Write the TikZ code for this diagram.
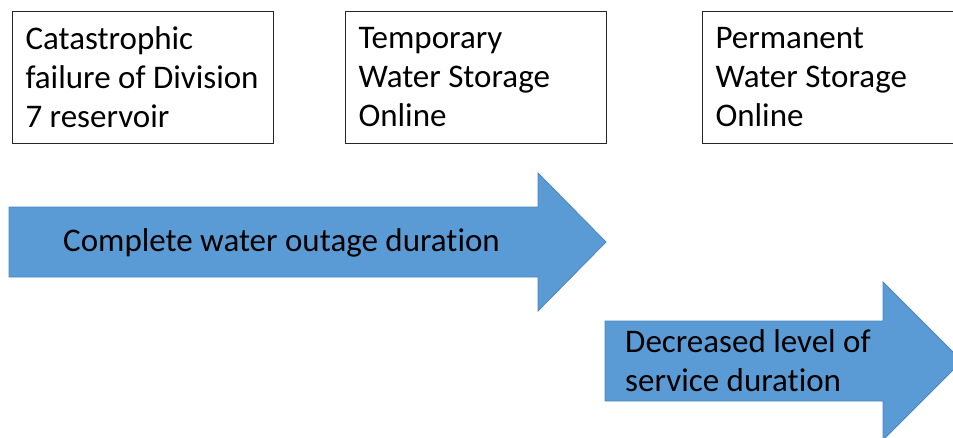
\documentclass[tikz,border=0pt]{standalone}
\usepackage{fontspec}
\setmainfont{Carlito}[Ligatures=NoCommon]
\usepackage{xcolor}
\definecolor{arrowblue}{HTML}{5B9BD5}
\definecolor{arrowedge}{HTML}{4A86BE}

\begin{document}
\begin{tikzpicture}[x=1pt,y=-1pt,line join=miter,
  every node/.style={font=\fontsize{33}{39}\selectfont,inner sep=0pt},
  stagebox/.style={draw=black!85,line width=1pt,anchor=north west,align=flush left,
    minimum height=132pt,inner xsep=13pt,text width=235pt},
  flow/.style={fill=arrowblue,draw=arrowedge,line width=0.8pt}]
\useasboundingbox (0,0) rectangle (953,437);
\clip (0,0) rectangle (953,437);
% milestone boxes
\node[stagebox] (failure) at (12,11) {Catastrophic\\failure of Division\\7 reservoir};
\node[stagebox] (temporary) at (345,11) {Temporary\\Water Storage\\Online};
\node[stagebox,text width=240pt] (permanent) at (702,11) {Permanent\\Water Storage\\Online};
% duration arrows
\draw[flow] (9,207) -- (538,207) -- (538,173) -- (606,242) -- (538,311) -- (538,277) -- (9,277) -- cycle;
\draw[flow] (605,321) -- (883,321) -- (883,282) -- (962,361) -- (883,440) -- (883,401) -- (605,401) -- cycle;
\node[anchor=base west] (outage) at (63,251) {Complete water outage duration};
\node[anchor=west,align=flush left] (service) at (625,361) {Decreased level of\\service duration};
\end{tikzpicture}
\end{document}
